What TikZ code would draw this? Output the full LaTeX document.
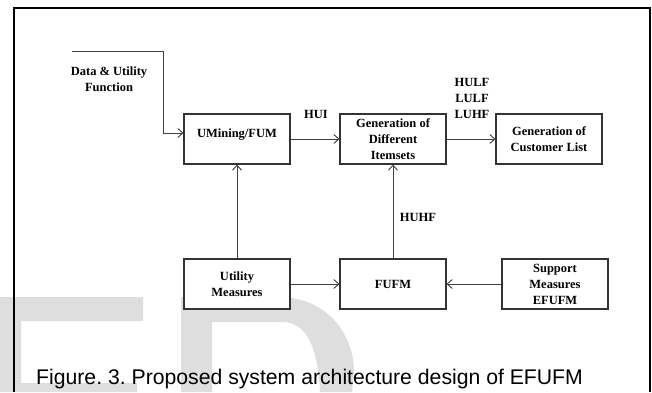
\documentclass[tikz,border=0pt]{standalone}
\usepackage{fontspec}
\setmainfont{Liberation Serif}
\newfontfamily\capfont{Liberation Sans}
\usetikzlibrary{arrows.meta}
\frenchspacing
\begin{document}
\begin{tikzpicture}[x=1pt,y=-1pt,
  box/.style={draw=black!80, line width=1.1pt, fill=white, minimum width=106pt,
    minimum height=50pt, inner sep=0pt, align=center,
    font=\fontsize{12.5}{16}\selectfont\bfseries},
  lbl/.style={inner sep=0pt, align=center, font=\fontsize{12.5}{16}\selectfont\bfseries},
  link/.style={draw=black!75, line width=0.9pt,
    -{Straight Barb[length=5pt,width=9pt,line width=0.9pt]}},
  wm/.style={fill=black!13, draw=none}]
\useasboundingbox (0,0) rectangle (652,392);
\fill[white] (0,0) rectangle (652,392);

% light grey watermark letters along the bottom
\fill[wm] (0,297) -- (143,297) -- (143,321) -- (21,321) -- (21,383) -- (137,383)
  -- (137,392) -- (0,392) -- cycle;
\fill[wm] (181,297) -- (278,297) .. controls (328,297) and (354,335) .. (354,372)
  -- (352,392) -- (320,392) .. controls (318,345) and (305,322) .. (283,322)
  -- (212,322) -- (212,392) -- (181,392) -- cycle;

% frame
\draw[line width=1.5pt] (14,392) -- (14,8) -- (650,8) -- (650,392);
\draw[line width=2.2pt] (13.25,8) -- (650.75,8);

% blocks
\node[box, text depth=12pt] (um) at (237,139) {UMining/FUM};
\node[box] (diff) at (393,139) {Generation of\\Different\\Itemsets};
\node[box] (cust) at (549,139) {Generation of\\Customer List};
\node[box] (util) at (237,284) {Utility\\Measures};
\node[box] (fufm) at (393,284) {FUFM};
\node[box] (supp) at (555,284) {Support\\Measures\\EFUFM};

% input
\coordinate (in) at (72,51);
\node[lbl] (data) at (109,79) {Data \& Utility\\Function};

% connectors
\draw[link] (in) -- (163,51) |- ([yshift=6pt]um.west);
\draw[link] (um) -- (diff);
\draw[link] (diff) -- (cust);
\draw[link] (util) -- (um);
\draw[link] (util) -- (fufm);
\draw[link] (supp) -- (fufm);
\draw[link] (fufm) -- (diff);

% connector labels
\node[lbl] (hui) at (316,114) {HUI};
\node[lbl] (hlf) at (472,98) {HULF\\LULF\\LUHF};
\node[lbl] (huhf) at (418,217) {HUHF};

% caption
\node[anchor=base west, inner sep=0pt, font=\capfont\fontsize{21.2}{25}\selectfont]
  (cap) at (36,384) {Figure. 3. Proposed system architecture design of EFUFM};
\end{tikzpicture}
\end{document}
